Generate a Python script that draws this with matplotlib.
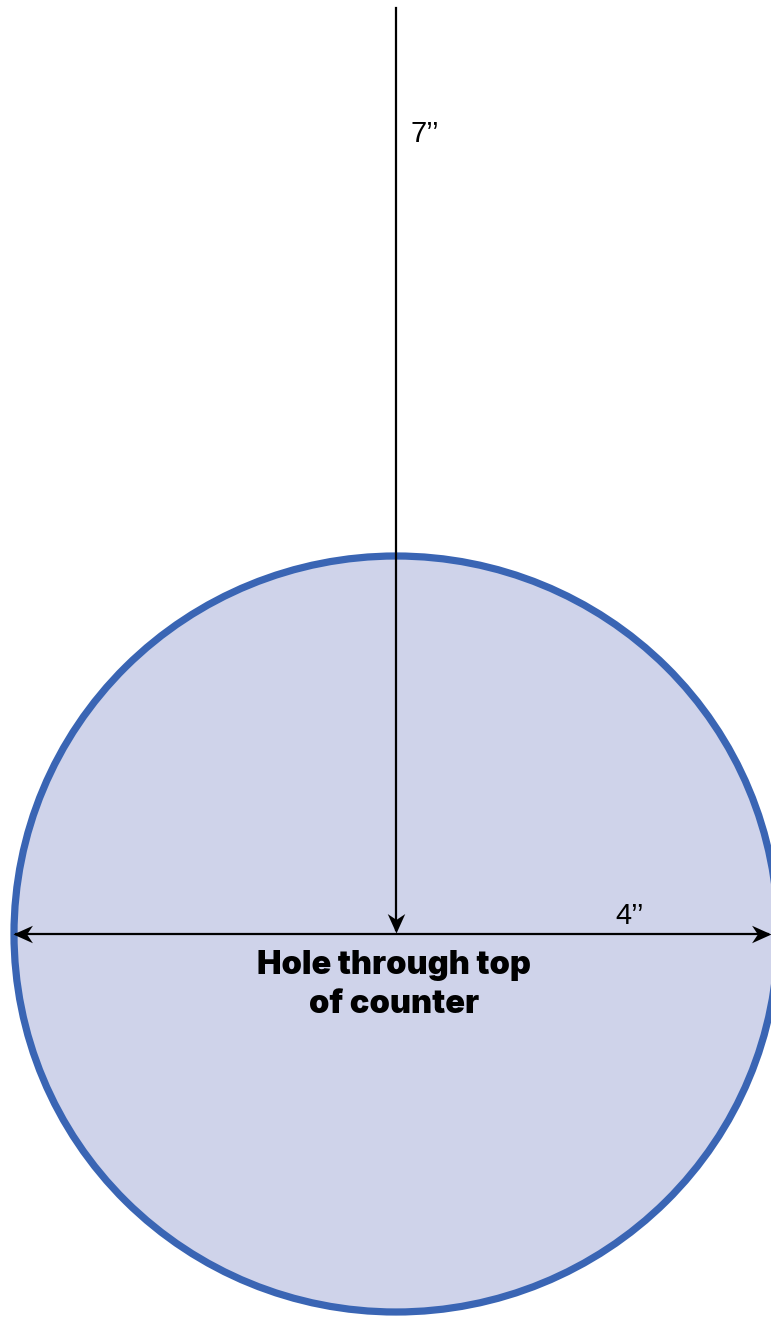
import matplotlib.pyplot as plt
from matplotlib.patches import Ellipse
from matplotlib.path import Path
from matplotlib.transforms import Affine2D

# Diagram content
dim_labels = ["7\u2019\u2019", "4\u2019\u2019"]
caption = "Hole through top\nof counter"

# Geometry in pixel units (figure is 771 x 1318)
W, H = 771, 1318
cx, cy = 396, 934
rx, ry = 382, 378

fig = plt.figure(figsize=(W / 100, H / 100), dpi=100)
ax = fig.add_axes([0, 0, 1, 1])
ax.set_xlim(0, W)
ax.set_ylim(H, 0)
ax.axis('off')

# The hole
hole = Ellipse((cx, cy), 2 * rx, 2 * ry, facecolor='#cfd3ea',
               edgecolor='#3a65b4', linewidth=5.2, zorder=1)
ax.add_patch(hole)

# notched ("classic") arrow head pointing right, tip at origin
head = Path([(0, 0), (-1, 0.45), (-0.7, 0), (-1, -0.45), (0, 0)],
            [Path.MOVETO, Path.LINETO, Path.LINETO, Path.LINETO, Path.CLOSEPOLY])


def arrow_head(x, y, angle):
    m = head.transformed(Affine2D().rotate_deg(angle))
    ax.plot(x, y, marker=m, markersize=28, color='black', mec='black',
            mew=0, zorder=4)


# 7'' vertical dimension
ax.plot([cx, cx], [8, cy - 4], color='black', lw=1.6, zorder=3)
arrow_head(cx, cy - 1, -90)
ax.text(410, 134, dim_labels[0], fontsize=21, family='Liberation Sans',
        ha='left', va='center')

# 4'' horizontal dimension
ax.plot([16, W - 3], [cy, cy], color='black', lw=1.6, zorder=3)
arrow_head(13, cy, 180)
arrow_head(W, cy, 0)
ax.text(615, 916, dim_labels[1], fontsize=21, family='Liberation Sans',
        ha='left', va='center')

ax.text(cx - 2, 985, caption, fontsize=23.5, family='Inter', fontweight='black',
        ha='center', va='center', linespacing=1.3)

fig.savefig('out.png', dpi=100)
